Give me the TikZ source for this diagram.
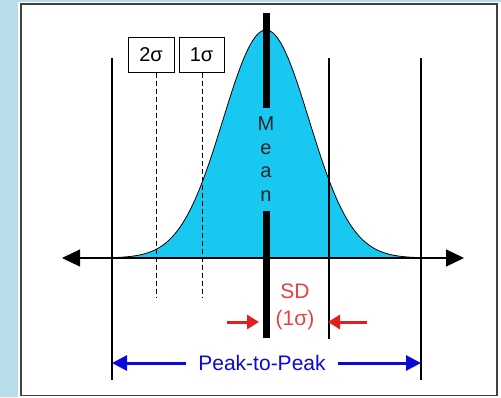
\documentclass[tikz,border=0pt]{standalone}
\usepackage{fontspec}
\setmainfont{Liberation Sans}
\usetikzlibrary{arrows.meta}
\definecolor{sidebar}{RGB}{183,221,232}
\definecolor{bellfill}{RGB}{24,200,240}
\definecolor{sdred}{RGB}{228,30,30}
\definecolor{ppblue}{RGB}{10,10,215}
\begin{document}
\begin{tikzpicture}[
  x=1pt,
  y=-1pt,
  font=\fontsize{21}{24}\selectfont,
  rule/.style={line width=1.2pt, black},
  sigmabox/.style={draw, line width=1pt, minimum width=45pt, minimum height=35pt, inner sep=0pt, font=\fontsize{20}{22}\selectfont},
  redarrow/.style={sdred, line width=3pt, -{Triangle[length=12pt, width=14pt]}},
  bluearrow/.style={ppblue, line width=3pt, -{Triangle[length=15pt, width=15pt]}}
]
\useasboundingbox (0,0) rectangle (501,397);
\fill[sidebar] (0,0) rectangle (501,397);
\fill[white] (18,1.5) rectangle (501,397);
\draw[black!75, line width=1.6pt] (20.8,4) rectangle (497,395.5);

% bell curve
\fill[bellfill] plot[domain=112:420, samples=150] (\x, {258-228*exp(-0.5*((\x-266)/43)^2)}) -- cycle;
\draw[black, line width=0.8pt] plot[domain=112:420, samples=150] (\x, {258-228*exp(-0.5*((\x-266)/43)^2)});

% limit lines
\coordinate (ltop) at (112,58);
\coordinate (lbot) at (112,380);
\coordinate (rtop) at (421,58);
\coordinate (rbot) at (421,380);
\coordinate (stop) at (329,58);
\coordinate (sbot) at (329,339);
\draw[rule] (ltop) -- (lbot);
\draw[rule] (rtop) -- (rbot);
\draw[rule] (stop) -- (sbot);

% axis
\coordinate (axl) at (62,258);
\coordinate (axr) at (464,258);
\draw[rule, {Triangle[length=18pt, width=17pt]}-{Triangle[length=18pt, width=17pt]}] (axl) -- (axr);

% sigma boxes
\node[sigmabox, minimum width=46pt] (twosig) at (151,54.5) {2σ};
\node[sigmabox] (onesig) at (201.5,54.5) {1σ};
\coordinate (twoend) at (156,297);
\coordinate (oneend) at (202,297);
\draw[line width=1pt, dash pattern=on 5pt off 3pt] (twosig.south -| twoend) -- (twoend);
\draw[line width=1pt, dash pattern=on 5pt off 3pt] (onesig.south -| oneend) -- (oneend);

% mean
\node[align=center, font=\fontsize{20}{23.5}\selectfont, text=black!85] (mean) at (266,159) {M\\e\\a\\n};
\coordinate (mtop) at (266,13);
\coordinate (mgapa) at (266,108);
\coordinate (mgapb) at (266,211);
\coordinate (mbot) at (266,338);
\draw[line width=7pt] (mtop) -- (mgapa);
\draw[line width=7pt] (mgapb) -- (mbot);

% SD callout
\node[text=sdred!85!white] (sd) at (295,291) {SD};
\node[text=sdred!85!white] (sdone) at (295,320) {(1σ)};
\coordinate (sdla) at (227,322);
\coordinate (sdlb) at (259,322);
\coordinate (sdra) at (367,322);
\coordinate (sdrb) at (328,322);
\draw[redarrow] (sdla) -- (sdlb);
\draw[redarrow] (sdra) -- (sdrb);

% peak to peak
\node[text=ppblue, inner xsep=12pt] (ptp) at (262,363) {Peak-to-Peak};
\draw[bluearrow] (ptp.west) -- (lbot |- ptp.west);
\draw[bluearrow] (ptp.east) -- (rbot |- ptp.east);
\end{tikzpicture}
\end{document}
